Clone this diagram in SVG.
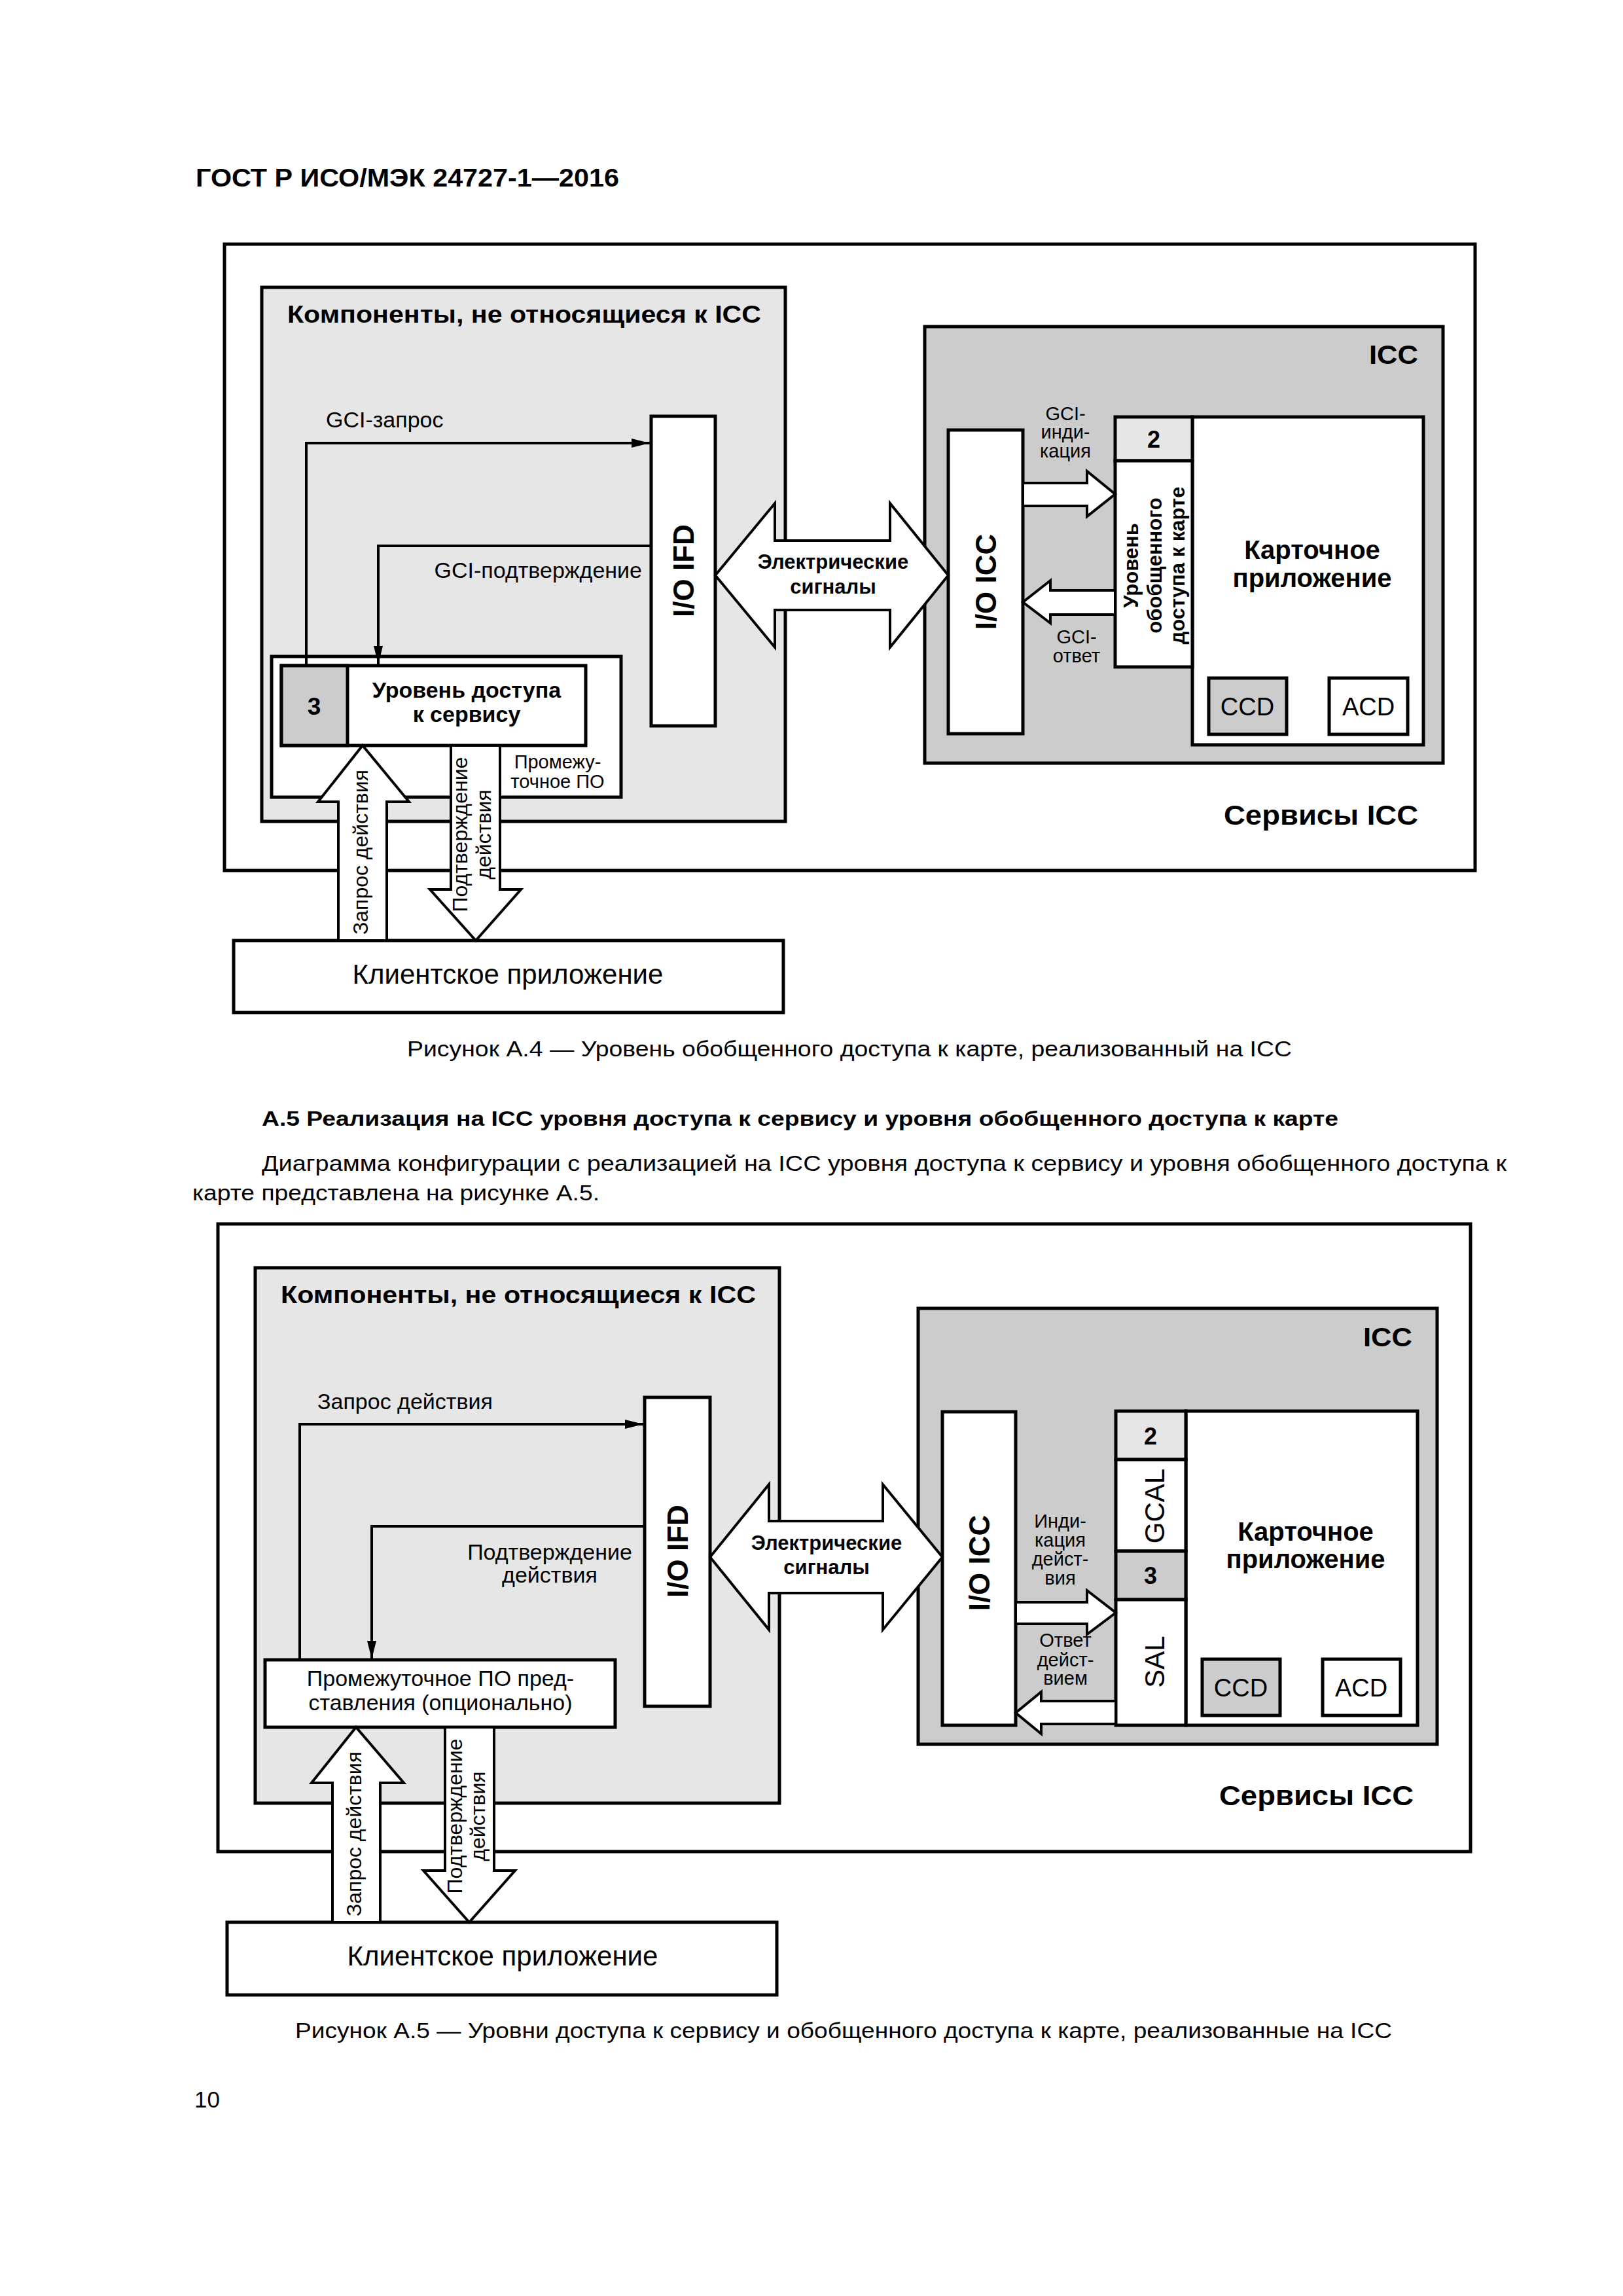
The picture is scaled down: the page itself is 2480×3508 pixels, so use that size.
<svg xmlns="http://www.w3.org/2000/svg" width="2480" height="3508" viewBox="0 0 2480 3508">
<style>
text{font-family:"Liberation Sans",Arial,sans-serif;fill:#000}
.b{font-weight:bold}
.box{stroke:#000;stroke-width:5;fill:#fff}
.g1{fill:#e6e6e6}
.g2{fill:#cccccc}
.ln{stroke:#000;stroke-width:4;fill:none}
.blk{stroke:#000;stroke-width:4;fill:#fff;stroke-linejoin:miter}
.m{text-anchor:middle}
.e{text-anchor:end}
</style>
<defs>
<marker id="ah" markerUnits="userSpaceOnUse" markerWidth="30" markerHeight="16" refX="28" refY="7" orient="auto">
<path d="M0,0 L28,7 L0,14 z" fill="#000"/>
</marker>
</defs>
<rect width="2480" height="3508" fill="#fff"/>
<text id="header" class="b" x="299" y="285" font-size="38" textLength="647" lengthAdjust="spacingAndGlyphs">ГОСТ Р ИСО/МЭК 24727-1—2016</text>

<!-- ===== Figure A.4 ===== -->
<g id="a4">
<g id="a4-services"><rect class="box" x="343" y="373" width="1911" height="957"/>
<text class="b e" x="2167" y="1260" font-size="43" textLength="297" lengthAdjust="spacingAndGlyphs">Сервисы ICC</text></g>
<g id="a4-nonicc"><rect class="box g1" x="400" y="439" width="800" height="816"/>
<text class="b" x="439" y="493" font-size="36" textLength="724" lengthAdjust="spacingAndGlyphs">Компоненты, не относящиеся к ICC</text></g>
<g id="a4-middleware"><rect class="box" x="415" y="1003" width="534" height="215"/>
<text class="m" x="852" y="1174" font-size="29">Промежу-</text>
<text class="m" x="852" y="1204" font-size="29">точное ПО</text></g>
<g id="a4-sal"><rect class="box" x="430" y="1017" width="465" height="122"/>
<rect class="box g2" x="430" y="1017" width="101" height="122"/>
<text class="b m" x="480" y="1092" font-size="37">3</text>
<text class="b m" x="713" y="1066" font-size="34">Уровень доступа</text>
<text class="b m" x="713" y="1103" font-size="34">к сервису</text></g>
<g id="a4-ioifd"><rect class="box" x="995" y="636" width="98" height="473"/>
<text class="b m" transform="translate(1060,872) rotate(-90)" font-size="44">I/O IFD</text></g>
<g id="a4-icc"><rect class="box g2" x="1413" y="499" width="792" height="667"/>
<text class="b e" x="2167" y="556" font-size="40" textLength="75" lengthAdjust="spacingAndGlyphs">ICC</text></g>
<g id="a4-ioicc"><rect class="box" x="1449" y="657" width="114" height="464"/>
<text class="b m" transform="translate(1522,889) rotate(-90)" font-size="44">I/O ICC</text></g>
<g id="a4-cardapp"><rect class="box" x="1822" y="637" width="353" height="501"/>
<text class="b m" x="2005" y="854" font-size="40">Карточное</text>
<text class="b m" x="2005" y="897" font-size="40">приложение</text></g>
<g id="a4-gcal"><rect class="box g1" x="1704" y="637" width="118" height="67"/>
<text class="b m" x="1763" y="684" font-size="36">2</text>
<rect class="box" x="1704" y="704" width="118" height="315"/>
<text class="b m" transform="translate(1739,864) rotate(-90)" font-size="31">Уровень</text>
<text class="b m" transform="translate(1775,864) rotate(-90)" font-size="31">обобщенного</text>
<text class="b m" transform="translate(1810,864) rotate(-90)" font-size="31">доступа к карте</text></g>
<g id="a4-ccd"><rect class="box g2" x="1847" y="1036" width="119" height="86"/>
<text class="m" x="1906" y="1093" font-size="38">CCD</text></g>
<g id="a4-acd"><rect class="box" x="2031" y="1036" width="120" height="86"/>
<text class="m" x="2091" y="1093" font-size="38">ACD</text></g>
<g id="a4-client"><rect class="box" x="357" y="1437" width="840" height="110"/>
<text class="m" x="776" y="1503" font-size="42">Клиентское приложение</text></g>

<g id="a4-connectors">
<polyline class="ln" points="468,1017 468,677 993,677" marker-end="url(#ah)"/>
<polyline class="ln" points="995,834 578,834 578,1015" marker-end="url(#ah)"/>
<text x="498" y="653" font-size="34">GCI-запрос</text>
<text class="e" x="981" y="883" font-size="34">GCI-подтверждение</text>
<polygon class="blk" points="1093,879 1184,769 1184,826 1360,826 1360,769 1449,879 1360,989 1360,932 1184,932 1184,989"/>
<text class="b m" x="1273" y="869" font-size="31">Электрические</text>
<text class="b m" x="1273" y="907" font-size="31">сигналы</text>
<polygon class="blk" points="1563,738 1661,738 1661,720 1704,755 1661,789 1661,773 1563,773"/>
<polygon class="blk" points="1704,902 1605,902 1605,887 1563,920 1605,952 1605,939 1704,939"/>
<text class="m" x="1628" y="642" font-size="29">GCI-</text>
<text class="m" x="1628" y="670" font-size="29">инди-</text>
<text class="m" x="1628" y="699" font-size="29">кация</text>
<text class="m" x="1645" y="983" font-size="29">GCI-</text>
<text class="m" x="1645" y="1012" font-size="29">ответ</text>
<polygon class="blk" points="517,1437 517,1225 486,1225 554,1139 625,1225 591,1225 591,1437"/>
<polygon class="blk" points="689,1139 689,1359 657,1359 727,1437 796,1359 764,1359 764,1139"/>
<text class="m" transform="translate(562,1302) rotate(-90)" font-size="32">Запрос действия</text>
<text class="m" transform="translate(714,1275) rotate(-90)" font-size="32">Подтверждение</text>
<text class="m" transform="translate(750,1275) rotate(-90)" font-size="32">действия</text>
</g>
</g>

<text id="cap4" x="622" y="1614" font-size="33" textLength="1352" lengthAdjust="spacingAndGlyphs">Рисунок А.4 — Уровень обобщенного доступа к карте, реализованный на ICC</text>
<text id="h5" class="b" x="400" y="1720" font-size="32" textLength="1645" lengthAdjust="spacingAndGlyphs">А.5  Реализация на ICC уровня доступа к сервису и уровня обобщенного доступа к карте</text>
<text id="p1" x="400" y="1789" font-size="34" textLength="1902" lengthAdjust="spacingAndGlyphs">Диаграмма конфигурации с реализацией на ICC уровня доступа к сервису и уровня обобщенного доступа к</text>
<text id="p2" x="294" y="1834" font-size="34" textLength="622" lengthAdjust="spacingAndGlyphs">карте представлена на рисунке А.5.</text>

<!-- ===== Figure A.5 ===== -->
<g id="a5">
<g id="a5-services"><rect class="box" x="333" y="1870" width="1914" height="959"/>
<text class="b e" x="2160" y="2758" font-size="43" textLength="297" lengthAdjust="spacingAndGlyphs">Сервисы ICC</text></g>
<g id="a5-nonicc"><rect class="box g1" x="390" y="1937" width="801" height="818"/>
<text class="b" x="429" y="1991" font-size="36" textLength="726" lengthAdjust="spacingAndGlyphs">Компоненты, не относящиеся к ICC</text></g>
<g id="a5-middleware"><rect class="box" x="405" y="2536" width="535" height="103"/>
<text class="m" x="673" y="2576" font-size="34">Промежуточное ПО пред-</text>
<text class="m" x="673" y="2613" font-size="34">ставления (опционально)</text></g>
<g id="a5-ioifd"><rect class="box" x="985" y="2135" width="100" height="472"/>
<text class="b m" transform="translate(1051,2370) rotate(-90)" font-size="44">I/O IFD</text></g>
<g id="a5-icc"><rect class="box g2" x="1403" y="1999" width="793" height="666"/>
<text class="b e" x="2158" y="2057" font-size="40" textLength="75" lengthAdjust="spacingAndGlyphs">ICC</text></g>
<g id="a5-ioicc"><rect class="box" x="1440" y="2157" width="112" height="479"/>
<text class="b m" transform="translate(1512,2388) rotate(-90)" font-size="44">I/O ICC</text></g>
<g id="a5-cardapp"><rect class="box" x="1812" y="2156" width="354" height="480"/>
<text class="b m" x="1995" y="2354" font-size="40">Карточное</text>
<text class="b m" x="1995" y="2396" font-size="40">приложение</text></g>
<g id="a5-stack"><rect class="box g1" x="1705" y="2156" width="107" height="74"/>
<text class="b m" x="1758" y="2207" font-size="36">2</text>
<rect class="box" x="1705" y="2230" width="107" height="140"/>
<text class="m" transform="translate(1779,2301) rotate(-90)" font-size="42">GCAL</text>
<rect class="box g2" x="1705" y="2370" width="107" height="74"/>
<text class="b m" x="1758" y="2420" font-size="36">3</text>
<rect class="box" x="1705" y="2444" width="107" height="192"/>
<text class="m" transform="translate(1779,2539) rotate(-90)" font-size="42">SAL</text></g>
<g id="a5-ccd"><rect class="box g2" x="1837" y="2535" width="119" height="86"/>
<text class="m" x="1896" y="2592" font-size="38">CCD</text></g>
<g id="a5-acd"><rect class="box" x="2021" y="2535" width="119" height="86"/>
<text class="m" x="2080" y="2592" font-size="38">ACD</text></g>
<g id="a5-client"><rect class="box" x="347" y="2937" width="840" height="111"/>
<text class="m" x="768" y="3003" font-size="42">Клиентское приложение</text></g>

<g id="a5-connectors">
<polyline class="ln" points="458,2536 458,2176 983,2176" marker-end="url(#ah)"/>
<polyline class="ln" points="985,2332 568,2332 568,2535" marker-end="url(#ah)"/>
<text x="485" y="2153" font-size="34">Запрос действия</text>
<text class="m" x="840" y="2383" font-size="34">Подтверждение</text>
<text class="m" x="840" y="2418" font-size="34">действия</text>
<polygon class="blk" points="1085,2379 1175,2268 1175,2324 1349,2324 1349,2268 1440,2379 1349,2490 1349,2434 1175,2434 1175,2490"/>
<text class="b m" x="1263" y="2368" font-size="31">Электрические</text>
<text class="b m" x="1263" y="2405" font-size="31">сигналы</text>
<polygon class="blk" points="1552,2448 1661,2448 1661,2430 1705,2464 1661,2497 1661,2481 1552,2481"/>
<polygon class="blk" points="1705,2599 1591,2599 1591,2585 1552,2617 1591,2649 1591,2634 1705,2634"/>
<text class="m" x="1620" y="2334" font-size="29">Инди-</text>
<text class="m" x="1620" y="2363" font-size="29">кация</text>
<text class="m" x="1620" y="2392" font-size="29">дейст-</text>
<text class="m" x="1620" y="2421" font-size="29">вия</text>
<text class="m" x="1628" y="2516" font-size="29">Ответ</text>
<text class="m" x="1628" y="2546" font-size="29">дейст-</text>
<text class="m" x="1628" y="2574" font-size="29">вием</text>
<polygon class="blk" points="508,2937 508,2724 476,2724 544,2639 617,2724 581,2724 581,2937"/>
<polygon class="blk" points="680,2639 680,2858 647,2858 717,2937 787,2858 755,2858 755,2639"/>
<text class="m" transform="translate(552,2802) rotate(-90)" font-size="32">Запрос действия</text>
<text class="m" transform="translate(706,2775) rotate(-90)" font-size="32">Подтверждение</text>
<text class="m" transform="translate(741,2775) rotate(-90)" font-size="32">действия</text>
</g>
</g>

<text id="cap5" x="451" y="3114" font-size="33" textLength="1676" lengthAdjust="spacingAndGlyphs">Рисунок А.5 — Уровни доступа к сервису и обобщенного доступа к карте, реализованные на ICC</text>
<text id="pagenum" x="297" y="3220" font-size="35">10</text>
</svg>
